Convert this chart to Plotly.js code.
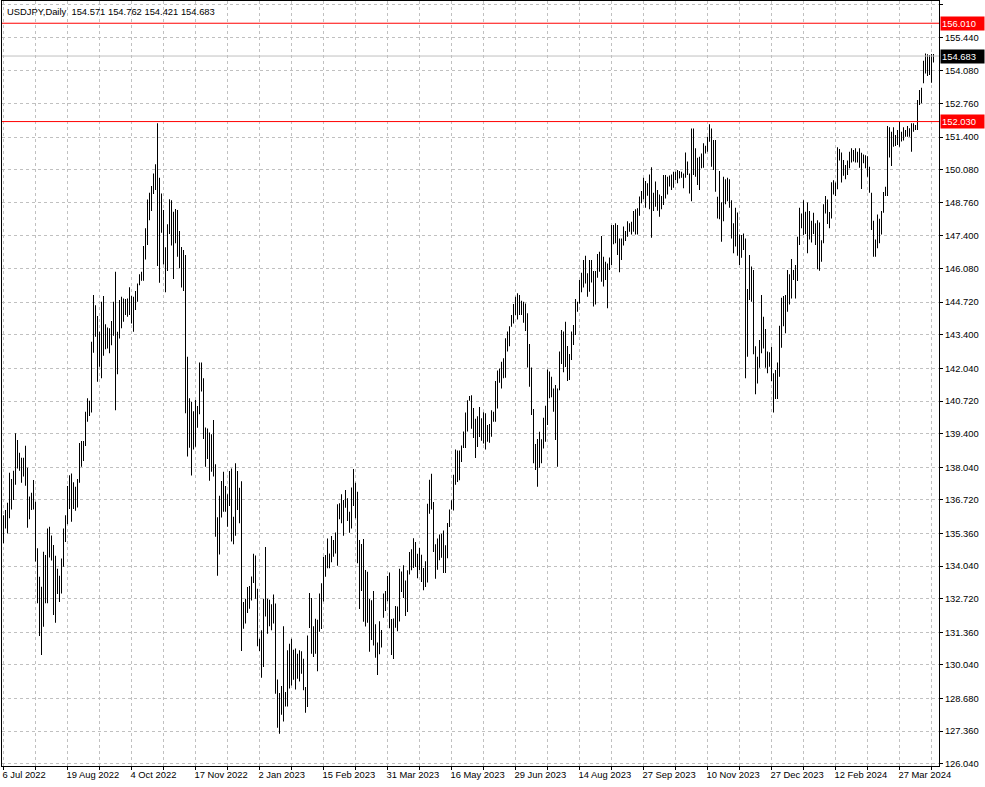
<!DOCTYPE html>
<html><head><meta charset="utf-8">
<script src="https://cdn.plot.ly/plotly-3.0.1.min.js"></script>
<style>html,body{margin:0;padding:0;background:#fff}#chart{width:985px;height:787px}</style>
</head><body><div id="chart"></div>
<script>
const symbolTitle = 'USDJPY,Daily';
const lastBarOHLC = ['154.571', '154.762', '154.421', '154.683'];
const firstDay = '2022-07-06';
const closedDays = ['2023-12-25', '2024-01-01', '2024-03-29'];

const highs = [
136.10,136.31,136.60,137.82,137.56,137.90,139.41,139.14,138.63,138.42,
138.42,138.91,138.02,136.85,137.01,137.52,136.64,134.76,133.61,133.20,
134.62,134.49,135.56,135.63,135.28,134.89,134.46,133.93,133.65,134.35,
135.56,136.10,137.28,137.72,137.79,137.43,137.25,137.56,139.02,139.10,
139.10,140.29,140.83,140.73,143.12,145.01,144.60,144.16,143.52,144.74,
144.97,143.83,143.70,143.66,143.96,144.74,145.95,143.52,144.81,144.94,
144.87,144.85,144.87,145.32,144.97,144.94,145.17,145.48,145.85,145.95,
146.99,147.71,148.88,149.15,149.42,149.93,150.30,151.96,149.76,149.12,
148.45,146.94,147.87,148.89,148.85,148.38,148.49,148.45,147.60,146.95,
146.83,146.63,142.51,140.83,140.69,140.31,140.76,140.52,142.28,142.28,
141.64,139.65,139.61,139.45,139.37,139.95,138.16,136.01,136.89,137.48,
137.86,137.28,136.95,137.89,137.99,136.04,138.20,137.89,137.21,137.47,
132.58,132.72,133.19,133.23,133.62,134.54,134.47,133.12,131.10,131.44,
132.72,134.81,132.72,132.68,132.49,132.89,132.52,129.45,128.90,129.18,
131.60,128.94,130.63,130.90,131.10,130.65,130.70,130.49,130.63,130.59,
130.29,129.14,131.23,132.95,132.75,131.60,131.91,131.87,132.93,133.34,
134.42,134.49,135.16,134.55,135.26,135.09,135.40,136.54,136.58,136.95,
136.71,137.12,136.78,136.24,137.22,137.97,137.41,137.05,135.09,134.93,
135.13,133.88,133.81,132.71,132.66,133.03,131.68,130.95,131.81,131.45,
132.93,133.03,133.64,133.78,131.90,131.92,132.42,132.40,133.93,133.82,
134.07,133.46,133.87,134.61,134.72,135.17,135.01,134.54,134.77,134.50,
133.96,134.23,136.56,137.53,137.78,136.63,134.92,135.15,135.32,135.35,
135.48,134.88,135.78,136.33,136.70,137.74,138.76,138.72,138.72,138.92,
139.49,140.25,140.75,140.92,140.95,140.44,140.00,140.10,140.48,140.02,
140.26,140.22,139.75,139.79,140.35,140.29,141.53,141.95,142.04,142.31,
142.45,143.26,143.53,143.75,144.20,144.65,144.94,145.08,145.01,144.78,
144.74,144.67,144.27,143.03,142.08,140.40,138.98,139.18,139.48,139.17,
140.04,140.53,142.00,141.91,141.70,141.23,141.37,141.23,142.72,143.59,
143.53,143.93,142.95,142.62,143.53,143.80,144.85,144.74,145.62,145.91,
146.43,146.60,145.89,146.43,146.43,145.98,145.98,146.67,146.76,147.40,
146.56,146.36,146.29,146.53,147.84,147.84,147.91,147.84,147.30,147.30,
147.78,147.60,148.00,147.91,147.98,148.41,148.48,148.52,149.00,149.22,
149.76,149.62,149.53,149.89,150.18,149.15,149.60,149.26,149.08,149.02,
149.87,149.87,149.80,149.85,149.89,150.00,150.00,150.07,150.03,150.00,
149.93,150.78,150.41,149.93,151.75,151.75,150.95,150.57,150.61,150.74,
151.15,151.05,151.42,151.92,151.75,151.28,151.28,148.99,150.03,148.76,
149.80,149.70,149.76,149.70,148.85,147.91,148.54,148.35,147.46,147.44,
147.50,147.30,145.25,146.63,146.16,146.02,142.94,142.51,143.19,145.01,
144.13,143.63,142.72,142.69,142.92,141.84,141.97,142.28,143.77,144.90,
144.97,145.01,146.02,145.85,146.47,146.02,146.22,147.37,148.54,148.31,
148.85,148.38,148.75,148.41,148.02,148.34,147.91,148.04,147.94,147.23,
148.68,149.02,148.88,148.37,149.57,149.66,149.56,150.99,150.92,150.78,
150.47,150.27,150.45,150.81,150.95,150.88,150.95,150.81,150.95,150.77,
150.70,150.67,150.63,150.20,149.15,148.02,147.26,148.27,148.10,148.41,
149.18,149.39,151.85,151.80,151.62,151.80,151.49,151.69,152.03,151.62,
151.80,151.69,151.85,151.76,151.96,151.96,151.89,152.90,153.31,153.40,
154.49,154.79,154.75,154.72,154.76,154.762
];

const lows = [
134.96,135.56,135.36,135.97,136.33,136.71,137.33,137.99,137.90,137.41,
137.66,137.29,135.59,135.93,136.31,136.33,134.22,132.53,131.21,130.44,
131.58,132.53,132.53,134.39,134.26,132.06,131.75,132.91,132.58,132.93,
134.01,135.01,135.73,136.35,135.83,136.35,136.28,136.41,137.41,138.06,
138.29,138.90,139.88,140.11,140.25,142.67,143.32,141.50,142.11,141.64,
142.55,142.81,142.85,142.65,142.98,143.36,140.35,141.80,143.25,143.66,
143.93,144.20,144.13,144.20,143.86,143.52,144.40,144.74,145.41,145.59,
145.59,146.45,147.03,148.04,148.41,149.10,149.26,146.18,145.51,147.53,
146.25,145.12,145.98,147.48,147.01,145.66,147.10,146.56,146.09,145.31,
145.17,140.22,138.47,138.83,137.70,138.76,138.87,139.64,140.18,141.10,
139.18,138.06,138.37,137.49,137.86,137.66,135.23,133.65,134.51,136.00,
136.24,136.24,135.63,136.47,135.03,134.92,135.27,136.31,135.77,130.60,
131.50,131.71,132.14,132.31,132.65,133.35,132.72,130.79,130.60,129.52,
129.95,132.00,131.30,131.60,131.44,131.71,128.87,127.50,127.25,128.02,
127.75,128.36,128.36,129.08,129.21,129.44,129.04,129.48,129.37,129.68,
129.01,128.10,128.33,131.53,130.49,130.36,130.49,129.78,131.38,131.49,
132.60,133.61,133.95,133.95,134.19,134.42,134.55,134.05,135.93,135.77,
135.27,136.40,135.86,135.39,135.56,136.47,135.97,134.15,132.30,133.03,
131.79,131.59,131.75,130.57,131.05,130.82,130.33,129.63,130.47,130.74,
131.95,132.22,132.62,131.52,130.44,130.28,131.54,131.40,131.80,132.99,
132.75,132.02,132.18,133.70,133.87,133.96,134.00,133.55,133.87,133.39,
133.06,133.19,133.37,136.16,136.33,134.61,133.53,133.89,134.27,134.38,
133.76,133.76,134.36,135.62,136.33,136.29,137.33,137.44,137.51,138.25,
138.82,138.82,139.49,140.73,139.60,139.22,138.41,138.86,139.26,139.11,
139.00,138.76,139.07,139.03,139.27,139.88,139.88,140.42,141.46,141.23,
141.64,141.66,142.72,142.94,143.73,143.86,144.20,144.02,144.20,144.20,
143.89,143.55,142.08,141.30,140.15,138.20,137.93,137.25,138.02,138.20,
138.80,139.07,139.75,140.83,140.87,140.29,139.14,138.06,141.16,142.22,
141.88,142.10,141.53,141.57,142.38,142.99,143.39,144.33,144.67,145.12,
145.31,145.48,144.94,145.14,145.52,144.54,144.63,145.71,145.95,145.55,
145.35,145.62,144.47,146.02,146.22,147.06,147.10,146.63,145.93,146.43,
147.01,147.20,147.37,147.57,147.46,147.57,147.46,147.46,148.22,148.72,
148.89,148.54,149.03,148.48,147.33,148.41,148.58,148.42,148.18,148.48,
148.65,148.92,149.08,149.40,149.26,149.35,149.66,149.53,149.73,149.76,
149.33,149.76,149.87,149.12,148.81,149.87,149.80,149.46,149.26,150.14,
150.16,150.74,150.81,151.21,150.20,150.07,149.19,148.11,148.08,147.17,
148.00,148.68,148.81,148.54,147.30,146.70,146.97,146.60,146.22,146.52,
146.83,141.64,142.51,144.81,144.74,142.61,140.99,141.43,142.07,142.65,
142.85,142.07,141.84,142.11,141.53,140.25,140.80,140.80,141.70,142.88,
143.75,143.46,144.33,144.63,144.87,145.62,144.87,145.58,147.03,147.71,
147.44,147.48,146.70,147.26,147.14,147.48,147.03,146.05,145.99,146.36,
147.10,148.31,147.88,147.71,148.11,149.08,149.02,149.29,150.45,149.56,
149.84,149.70,149.87,150.14,150.37,150.41,150.37,150.37,150.16,149.30,
150.34,150.14,149.80,149.15,147.64,146.56,146.56,146.90,147.10,147.46,
148.34,149.02,149.02,150.58,150.23,151.01,151.04,151.08,151.01,151.22,
151.26,151.42,151.42,151.42,150.81,151.62,151.69,151.69,152.70,152.77,
153.58,153.98,153.87,153.91,153.60,154.421
];

const xTickLabels = ['6 Jul 2022','19 Aug 2022','4 Oct 2022','17 Nov 2022','2 Jan 2023','15 Feb 2023',
  '31 Mar 2023','16 May 2023','29 Jun 2023','14 Aug 2023','27 Sep 2023','10 Nov 2023','27 Dec 2023',
  '12 Feb 2024','27 Mar 2024'];
const yTickLabels = ['156.760','155.440','154.080','152.760','151.400','150.080','148.760','147.400',
  '146.080','144.720','143.400','142.040','140.720','139.400','138.040','136.720','135.360','134.040',
  '132.720','131.360','130.040','128.680','127.360','126.040'];
const lineLevels = ['156.010', '152.030'];
const bidLevel = '154.683';

// trading calendar (weekdays the market was open)
const dates = [];
const cur = new Date(firstDay + 'T00:00:00Z');
while (dates.length < highs.length) {
  const iso = cur.toISOString().slice(0, 10);
  const wd = cur.getUTCDay();
  if (wd !== 0 && wd !== 6 && !closedDays.includes(iso)) dates.push(iso);
  cur.setUTCDate(cur.getUTCDate() + 1);
}
const monthIdx = {Jan:0,Feb:1,Mar:2,Apr:3,May:4,Jun:5,Jul:6,Aug:7,Sep:8,Oct:9,Nov:10,Dec:11};
const tickvals = [], ticktext = [];
xTickLabels.forEach(lbl => {
  const [dd, mm, yy] = lbl.split(' ');
  const iso = new Date(Date.UTC(+yy, monthIdx[mm], +dd)).toISOString().slice(0, 10);
  const i = dates.indexOf(iso);
  tickvals.push(iso); ticktext.push(lbl);
  if (i >= 0 && i + 16 < dates.length) { tickvals.push(dates[i + 16]); ticktext.push(''); }
});

const FONT = 'Liberation Sans, Arial, sans-serif';
const FS = 9.4;

const trace = {
  type: 'bar', x: dates, base: lows, y: highs.map((h, i) => h - lows[i]),
  width: 0.5, marker: {color: '#000000', line: {width: 0}}, hoverinfo: 'skip'
};

const shapes = lineLevels.map(v => ({
  type: 'line', xref: 'paper', x0: 0, x1: 1, yref: 'y', y0: +v, y1: +v,
  line: {color: '#ff0000', width: 1}, layer: 'above'
}));
shapes.push({type: 'line', xref: 'paper', x0: 0, x1: 1, yref: 'y', y0: +bidLevel, y1: +bidLevel,
  line: {color: '#c0c0c0', width: 1}, layer: 'above'});

const annotations = lineLevels.map(v => ({
  xref: 'paper', x: 1, xanchor: 'left', xshift: 1, yref: 'y', y: +v, yanchor: 'middle',
  text: v, showarrow: false, bgcolor: '#ff0000', font: {family: FONT, size: FS, color: '#ffffff'},
  borderpad: 1, width: 41, align: 'left'
}));
annotations.push({
  xref: 'paper', x: 1, xanchor: 'left', xshift: 1, yref: 'y', y: +bidLevel, yanchor: 'middle',
  text: bidLevel, showarrow: false, bgcolor: '#000000', font: {family: FONT, size: FS, color: '#ffffff'},
  borderpad: 1, width: 41, align: 'left'
});
annotations.push({
  xref: 'paper', x: 0, xanchor: 'left', xshift: 3, yref: 'paper', y: 1, yanchor: 'top', yshift: -3,
  text: symbolTitle + '  ' + lastBarOHLC.join(' '), showarrow: false,
  font: {family: FONT, size: FS, color: '#000000'}
});

const layout = {
  width: 985, height: 787,
  margin: {l: 2, r: 46, t: 1, b: 21, pad: 0},
  paper_bgcolor: '#ffffff', plot_bgcolor: '#ffffff', showlegend: false,
  font: {family: FONT, size: FS, color: '#000000'},
  xaxis: {
    type: 'category', range: [-0.75, 467.75], tickmode: 'array', tickvals: tickvals, ticktext: ticktext,
    showgrid: true, gridcolor: '#c0c0c0', griddash: '3px,3px', gridwidth: 1,
    showline: true, linecolor: '#000000', linewidth: 1, mirror: true,
    ticks: 'outside', ticklen: 3, tickcolor: '#000000', ticklabelposition: 'outside right', ticklabelshift: -2,
    tickfont: {family: FONT, size: FS, color: '#000000'}, zeroline: false, fixedrange: true
  },
  yaxis: {
    side: 'right', range: [125.947, 156.910], tickmode: 'array',
    tickvals: yTickLabels.map(Number), ticktext: yTickLabels,
    showgrid: true, gridcolor: '#c0c0c0', griddash: '3px,3px', gridwidth: 1,
    showline: true, linecolor: '#000000', linewidth: 1, mirror: true,
    ticks: 'outside', ticklen: 3, tickcolor: '#000000',
    tickfont: {family: FONT, size: FS, color: '#000000'}, zeroline: false, fixedrange: true
  },
  shapes: shapes, annotations: annotations
};

Plotly.newPlot('chart', [trace], layout, {displayModeBar: false, staticPlot: true});
</script>
</body></html>
